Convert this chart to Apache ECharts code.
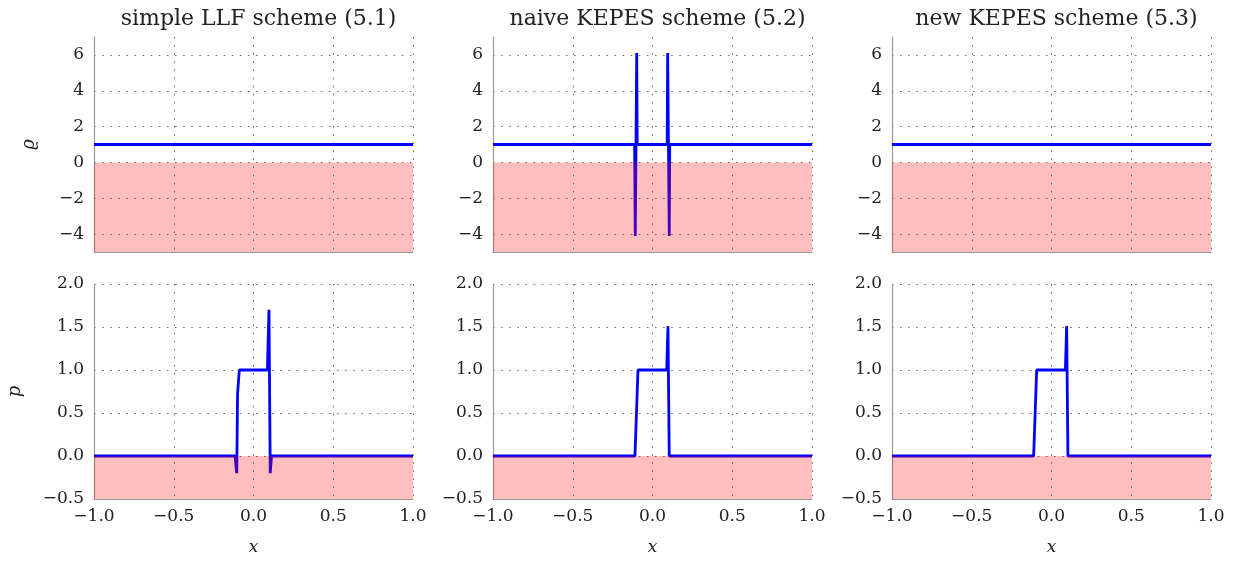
<!DOCTYPE html>
<html>
<head>
<meta charset="utf-8">
<script src="https://cdn.jsdelivr.net/npm/echarts@6/dist/echarts.min.js"></script>
<style>
  html, body { margin: 0; padding: 0; background: #fff; }
  #chart { width: 1237px; height: 561px; }
</style>
</head>
<body>
<div id="chart"></div>
<script>
// ---- data ----
const panelTitles = ['simple LLF scheme (5.1)', 'naive KEPES scheme (5.2)', 'new KEPES scheme (5.3)'];
const xTicks = [-1.0, -0.5, 0.0, 0.5, 1.0];
const rhoTicks = [-4, -2, 0, 2, 4, 6];
const pTicks = [-0.5, 0.0, 0.5, 1.0, 1.5, 2.0];
const rhoRange = [-5, 7];
const pRange = [-0.5, 2.0];

// density
const rhoLLF_x = [-1.0, 1.0];
const rhoLLF_y = [1.0, 1.0];
const rhoNaive_x = [-1.0, -0.112, -0.108, -0.099, -0.096, 0.092, 0.095, 0.105, 0.108, 1.0];
const rhoNaive_y = [1.0, 1.0, -4.1, 6.1, 1.0, 1.0, 6.1, -4.1, 1.0, 1.0];
const rhoNew_x = [-1.0, 1.0];
const rhoNew_y = [1.0, 1.0];

// pressure
const pLLF_x = [-1.0, -0.116, -0.105, -0.1, -0.089, 0.087, 0.097, 0.105, 0.113, 1.0];
const pLLF_y = [0.0, 0.0, -0.2, 0.72, 1.0, 1.0, 1.7, -0.2, 0.0, 0.0];
const pNaive_x = [-1.0, -0.11, -0.091, 0.089, 0.097, 0.105, 1.0];
const pNaive_y = [0.0, 0.0, 1.0, 1.0, 1.51, 0.0, 0.0];
const pNew_x = [-1.0, -0.112, -0.093, 0.087, 0.095, 0.103, 1.0];
const pNew_y = [0.0, 0.0, 1.0, 1.0, 1.51, 0.0, 0.0];

// ---- chart ----
const zip = (xs, ys) => xs.map((x, i) => [x, ys[i]]);
const rhoSeries = [zip(rhoLLF_x, rhoLLF_y), zip(rhoNaive_x, rhoNaive_y), zip(rhoNew_x, rhoNew_y)];
const pSeries = [zip(pLLF_x, pLLF_y), zip(pNaive_x, pNaive_y), zip(pNew_x, pNew_y)];

const FONT = 'DejaVu Serif';
const lefts = [94, 493, 892];
const W = 319, H = 215;
const tops = [37, 284];
const fmtMinus = s => String(s).replace('-', '\u2212');

const grid = [], xAxis = [], yAxis = [], series = [], title = [];
const gridColor = '#707070';
const axisColor = '#999';

for (let r = 0; r < 2; r++) {
  for (let c = 0; c < 3; c++) {
    const idx = r * 3 + c;
    grid.push({ left: lefts[c], top: tops[r], width: W, height: H, containLabel: false });
    const isBottom = r === 1;
    xAxis.push({
      type: 'value', gridIndex: idx,
      min: xTicks[0], max: xTicks[xTicks.length - 1],
      interval: xTicks[1] - xTicks[0],
      axisLine: { show: true, onZero: false, lineStyle: { color: axisColor, width: 1.2 } },
      axisTick: { show: false },
      axisLabel: {
        show: isBottom, margin: 9, color: '#222', fontFamily: FONT, fontSize: 17,
        formatter: v => fmtMinus(v.toFixed(1))
      },
      splitLine: { show: true, lineStyle: { color: gridColor, type: [1.6, 6.5], width: 1 } },
      name: isBottom ? 'x' : '', nameLocation: 'middle', nameGap: 40,
      nameTextStyle: { fontFamily: FONT, fontStyle: 'italic', fontSize: 17, color: '#222' }
    });
    const ticks = isBottom ? pTicks : rhoTicks;
    const range = isBottom ? pRange : rhoRange;
    yAxis.push({
      type: 'value', gridIndex: idx,
      min: range[0], max: range[1],
      axisLine: { show: true, onZero: false, lineStyle: { color: axisColor, width: 1.2 } },
      axisTick: { show: false, customValues: ticks },
      axisLabel: {
        customValues: ticks, margin: 10, color: '#222', fontFamily: FONT, fontSize: 17,
        formatter: v => fmtMinus(isBottom ? v.toFixed(1) : String(Math.round(v)))
      },
      splitLine: { show: true, lineStyle: { color: gridColor, type: [1.6, 6.5], width: 1 } },
      name: c === 0 ? (isBottom ? 'p' : '\u03F1') : '',
      nameLocation: 'middle', nameRotate: 90,
      nameGap: isBottom ? 70 : 56,
      nameTextStyle: { fontFamily: FONT, fontStyle: 'italic', fontSize: 18, color: '#222' }
    });
    series.push({
      type: 'line', xAxisIndex: idx, yAxisIndex: idx, z: 2,
      data: isBottom ? pSeries[c] : rhoSeries[c],
      showSymbol: false, symbol: 'none', silent: true,
      lineStyle: { color: '#0000ff', width: 2.8 },
      animation: false
    });
    series.push({
      type: 'line', xAxisIndex: idx, yAxisIndex: idx, z: 3,
      data: [], symbol: 'none', silent: true, animation: false,
      markArea: {
        z: 3, silent: true,
        itemStyle: { color: 'rgba(255,0,0,0.25)' },
        data: [[{ yAxis: range[0] }, { yAxis: 0 }]]
      }
    });
  }
}

for (let c = 0; c < 3; c++) {
  title.push({
    text: panelTitles[c], left: lefts[c] + W / 2, top: 3, textAlign: 'center',
    textStyle: { fontFamily: FONT, fontWeight: 'normal', fontSize: 22, color: '#222' }
  });
}

const chart = echarts.init(document.getElementById('chart'), null, { renderer: 'canvas' });
chart.setOption({ animation: false, backgroundColor: '#fff', title, grid, xAxis, yAxis, series });
</script>
</body>
</html>
